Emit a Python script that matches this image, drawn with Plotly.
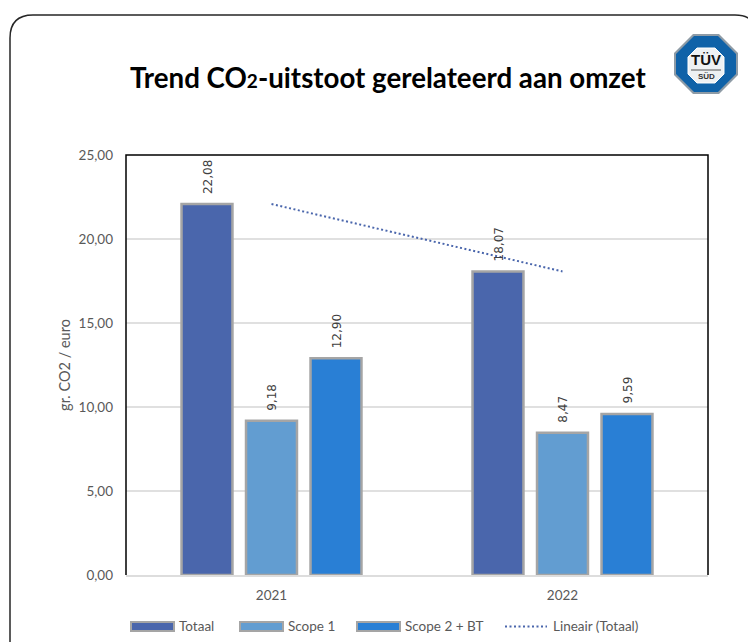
import plotly.graph_objects as go

W, H = 748, 642
ML, MR, MT, MB = 126, 40, 155, 67

years = ["2021", "2022"]
totaal = [22.08, 18.07]
scope1 = [9.18, 8.47]
scope2 = [12.90, 9.59]
trend = [22.08, 18.07]
ticks = [0, 5, 10, 15, 20, 25]
tick_labels = ["0,00", "5,00", "10,00", "15,00", "20,00", "25,00"]
names = ["Totaal", "Scope 1", "Scope 2 + BT", "Lineair (Totaal)"]
colors = ["#4A66AC", "#629DD1", "#297FD5"]
title_text = 'Trend CO<span style="font-size:19px">2</span>-uitstoot gerelateerd aan omzet'
TXT = "#595959"
BODY = "Lato"
BORDER = "#A5A5A5"
LOGO_BLUE = "#0F62A8"

def px(x):
    return (x - ML) / (W - ML - MR)

def py(y):
    return 1 - (y - MT) / (H - MT - MB)

def lab(v):
    return [f"{a:.2f}".replace(".", ",") for a in v]

fig = go.Figure()
for n, v, c in zip(names, [totaal, scope1, scope2], colors):
    fig.add_bar(x=years, y=v, name=n, marker=dict(color=c, line=dict(color=BORDER, width=2.5)))
fig.add_scatter(x=years, y=trend, mode="lines", name=names[3],
                line=dict(color="#4A66AC", width=2, dash="2px,2.5px"))

def P(pts):
    return "M " + " L ".join(f"{px(x):.5f},{py(y):.5f}" for x, y in pts) + " Z"

def rect(x0, y0, x1, y1, fill, line):
    return dict(type="rect", xref="paper", yref="paper", x0=px(x0), x1=px(x1), y0=py(y0), y1=py(y1),
                fillcolor=fill, line=dict(color=line, width=2))

shapes = [
    dict(type="path", xref="paper", yref="paper", layer="below",
         path=f"M {px(10)},{py(660)} L {px(10)},{py(38)} Q {px(10)},{py(15)} {px(33)},{py(15)} "
              f"L {px(735)},{py(15)} Q {px(748)},{py(15)} {px(752)},{py(22)}",
         line=dict(color="#262626", width=1.5)),
    dict(type="path", xref="paper", yref="paper", layer="above",
         path=f"M {px(126)},{py(575)} L {px(126)},{py(155)} L {px(708)},{py(155)} L {px(708)},{py(575)}",
         line=dict(color="#000000", width=1.5)),
    dict(type="path", xref="paper", yref="paper", layer="above", fillcolor="#8E9BA6", line=dict(width=0),
         path=P([(693,34),(719,34),(738,53),(738,75),(719,94),(693,94),(674,75),(674,53)])),
    dict(type="path", xref="paper", yref="paper", layer="above", fillcolor=LOGO_BLUE, line=dict(width=0),
         path=P([(694,36),(718,36),(736,54),(736,74),(718,92),(694,92),(676,74),(676,54)])),
    dict(type="path", xref="paper", yref="paper", layer="above", fillcolor="#EEF1F3",
         line=dict(color="#FFFFFF", width=1),
         path=P([(697,48),(715,48),(724,57),(724,74),(715,83),(697,83),(688,74),(688,57)])),
    dict(type="line", xref="paper", yref="paper", layer="above", x0=px(691), x1=px(721), y0=py(70), y1=py(70),
         line=dict(color="#555555", width=1)),
    rect(131, 622, 174, 631, colors[0], BORDER),
    rect(240, 622, 283, 631, colors[1], BORDER),
    rect(357, 622, 400, 631, colors[2], BORDER),
    dict(type="line", xref="paper", yref="paper", x0=px(505), x1=px(547), y0=py(626.5), y1=py(626.5),
         line=dict(color="#4A66AC", width=2, dash="2px,2.5px")),
]

def ann(x, y, text, size, color, family=BODY, bold=False, xanchor="center"):
    return dict(xref="paper", yref="paper", x=px(x), y=py(y), text=f"<b>{text}</b>" if bold else text,
                showarrow=False, xanchor=xanchor, yanchor="middle",
                font=dict(family=family, size=size, color=color))

annotations = [
    ann(388, 77, title_text, 27.7, "#000000", family="Lato", bold=True),
    ann(706, 60, "TÜV", 15, "#111111", family="Liberation Sans", bold=True),
    ann(706, 76, "SÜD", 8, "#333333", family="Liberation Sans", bold=True),
]
for nm, x0 in zip(names, [177, 286, 403, 550.5]):
    annotations.append(ann(x0, 626, nm, 13.5, TXT, xanchor="left"))

for series, shift in zip([totaal, scope1, scope2], [-63.5, 1, 65.5]):
    for i, (val, txt) in enumerate(zip(series, lab(series))):
        annotations.append(dict(xref="x", yref="y", x=i, y=val, text=txt, textangle=-90, showarrow=False,
                                xshift=shift, yshift=8, yanchor="bottom", xanchor="center",
                                font=dict(family="DejaVu Sans", size=12, color="#404040")))

fig.update_layout(
    width=W, height=H, autosize=False, showlegend=False,
    margin=dict(l=ML, r=MR, t=MT, b=MB, pad=0),
    paper_bgcolor="white", plot_bgcolor="white",
    barmode="group", bargap=0.335, bargroupgap=0.21,
    font=dict(family=BODY, size=13, color=TXT),
    shapes=shapes, annotations=annotations,
    xaxis=dict(type="category", categoryorder="array", categoryarray=years, range=[-0.5, 1.5], showgrid=False,
               ticks="", showline=True, linecolor="#DDDDDD", linewidth=1.5,
               tickfont=dict(size=13.5, color=TXT), ticklabelstandoff=7),
    yaxis=dict(range=[0, 25], tickvals=ticks, ticktext=tick_labels, gridcolor="#E0E0E0", gridwidth=1.5,
               zeroline=False, ticks="", tickfont=dict(size=13.5, color=TXT), ticklabelstandoff=12,
               title=dict(text="gr. CO2 / euro", font=dict(size=14.5, color=TXT), standoff=4)),
)
fig.write_html("out.html", config={"displayModeBar": False},
               post_script="document.documentElement.style.overflow='hidden';document.body.style.margin='0';")
